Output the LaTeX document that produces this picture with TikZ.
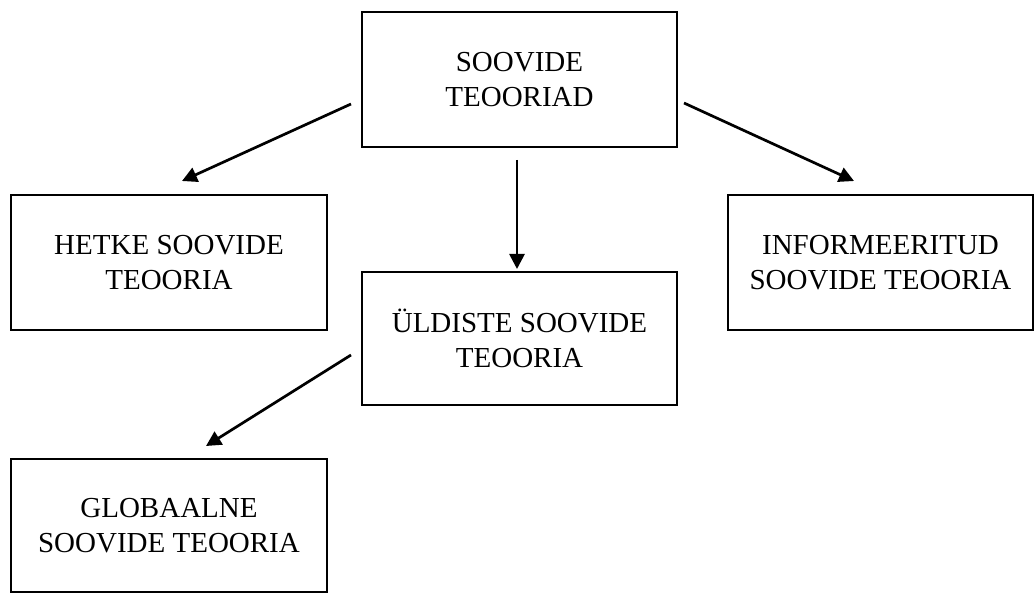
\documentclass[tikz,border=0pt]{standalone}
\usepackage{fontspec}
\setmainfont{Liberation Serif}
\usetikzlibrary{arrows.meta,positioning}

\begin{document}
\begin{tikzpicture}[x=1pt,y=-1pt,>={Triangle[length=15pt,width=15pt]},
 theory/.style={draw,line width=1.4pt,align=center,inner sep=0pt,
  font=\fontsize{29}{35}\selectfont},
 link/.style={->,line width=2.7pt}]
\useasboundingbox (0,0) rectangle (1036,593);
\node[theory,minimum width=315pt,minimum height=135pt] (top) at (519.5,79.5) {SOOVIDE\\TEOORIAD};
\node[theory,minimum width=316pt,minimum height=135pt] (now) at (169,262.5) {HETKE SOOVIDE\\TEOORIA};
\node[theory,minimum width=315pt,minimum height=133pt] (general) at (519.5,338.5) {ÜLDISTE SOOVIDE\\TEOORIA};
\node[theory,minimum width=305pt,minimum height=135pt] (informed) at (880.5,262.5) {INFORMEERITUD\\SOOVIDE TEOORIA};
\node[theory,minimum width=316pt,minimum height=133pt] (global) at (169,525.5) {GLOBAALNE\\SOOVIDE TEOORIA};
% arrow ends, free of the boxes
\coordinate (topL) at (351,104);
\coordinate (nowT) at (182,181);
\coordinate (topB) at (517,160);
\coordinate (generalT) at (517,269);
\coordinate (topR) at (684,103);
\coordinate (informedT) at (854,181);
\coordinate (generalL) at (351,355);
\coordinate (globalT) at (206,446);
\draw[link] (topL)--(nowT);
\draw[link] (topB)--(generalT);
\draw[link] (topR)--(informedT);
\draw[link] (generalL)--(globalT);
\end{tikzpicture}
\end{document}
